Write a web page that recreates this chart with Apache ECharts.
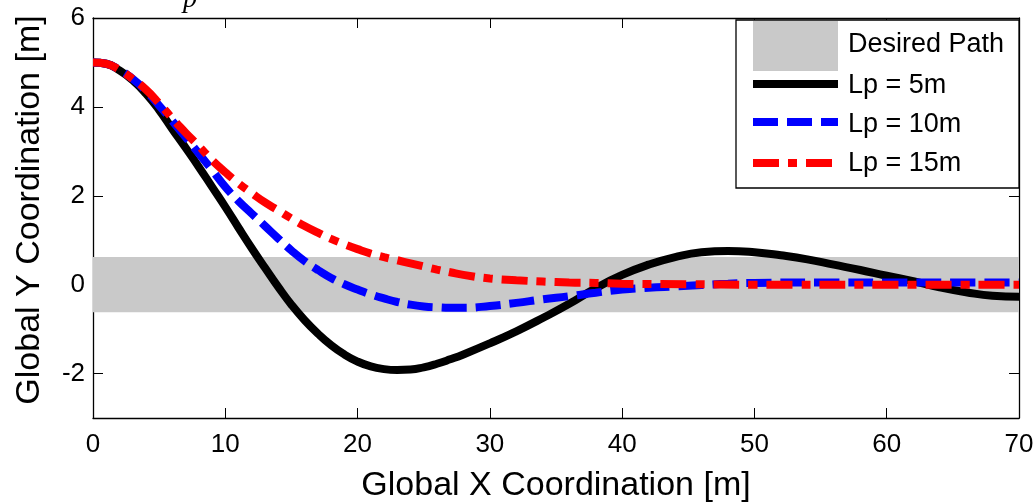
<!DOCTYPE html>
<html>
<head>
<meta charset="utf-8">
<script src="https://cdn.jsdelivr.net/npm/echarts@6/dist/echarts.min.js"></script>
<style>html,body{margin:0;padding:0;background:#fff}#c{width:1036px;height:503px}</style>
</head>
<body>
<div id="c"></div>
<script>
// ---- data ----
const xLabels = [0, 10, 20, 30, 40, 50, 60, 70];
const yTicks = [-2, 0, 2, 4, 6];
const bandHalfWidth = 0.62; // desired path band (m)

const x5  = [0,1,2,3,4,5,6,7,8,9,10,11,12,13,14,15,16,17,18,19,20,21,22,23,24,25,26,27,28,30,32,34,36,38,40,42,44,46,48,50,52,54,56,58,60,62,64,66,68,70];
const y5  = [5.0,4.97,4.82,4.6,4.3,3.93,3.5,3.08,2.65,2.2,1.75,1.28,0.82,0.38,-0.05,-0.45,-0.8,-1.1,-1.36,-1.57,-1.73,-1.84,-1.9,-1.92,-1.91,-1.86,-1.78,-1.68,-1.57,-1.32,-1.05,-0.75,-0.43,-0.08,0.22,0.45,0.62,0.73,0.76,0.73,0.66,0.57,0.45,0.33,0.2,0.08,-0.06,-0.17,-0.25,-0.27];

const x10 = [0,1,2,3,4,5,6,7,8,9,10,11,12,13,14,15,16,17,18,19,20,21,22,23,24,25,26,27,28,30,32,34,36,38,40,42,44,46,48,50,55,60,65,70];
const y10 = [5.0,4.97,4.83,4.63,4.36,4.03,3.68,3.32,2.95,2.58,2.2,1.88,1.6,1.32,1.04,0.77,0.53,0.33,0.15,0.01,-0.11,-0.22,-0.31,-0.39,-0.45,-0.49,-0.51,-0.52,-0.52,-0.48,-0.41,-0.33,-0.26,-0.18,-0.11,-0.07,-0.04,-0.01,0.02,0.04,0.05,0.05,0.05,0.05];

const x15 = [0,1,2,3,4,5,6,7,8,9,10,11,12,13,14,15,16,17,18,19,20,21,22,23,24,25,26,27,28,30,32,34,36,38,40,45,50,60,70];
const y15 = [5.0,4.97,4.83,4.63,4.39,4.08,3.74,3.42,3.12,2.8,2.53,2.28,2.06,1.85,1.67,1.49,1.32,1.17,1.03,0.91,0.8,0.7,0.62,0.55,0.48,0.41,0.34,0.28,0.22,0.14,0.1,0.07,0.05,0.04,0.02,0.01,0.0,0.0,0.0];

const seriesNames = ['Desired Path', 'Lp = 5m', 'Lp = 10m', 'Lp = 15m'];

function zip(xs, ys) { return xs.map((x, i) => [x, ys[i]]); }

const FONT = 'Liberation Sans, Arial, sans-serif';
const chart = echarts.init(document.getElementById('c'), null, {renderer: 'canvas'});

const tickStyle = {show: true, inside: true, length: 10, lineStyle: {color: '#000', width: 1}};
const axisLine = {show: true, onZero: false, lineStyle: {color: '#000', width: 1.3}};

const option = {
  animation: false,
  backgroundColor: '#fff',
  grid: {left: 93, right: 17, top: 18, bottom: 85, containLabel: false, outerBoundsMode: 'none'},
  xAxis: [{
    type: 'value', min: 0, max: 70, interval: 10,
    axisLine: axisLine, axisTick: tickStyle, splitLine: {show: false},
    axisLabel: {color: '#000', fontSize: 26, fontFamily: FONT, margin: 14},
    name: 'Global X Coordination [m]', nameLocation: 'middle', nameGap: 51,
    nameTextStyle: {color: '#000', fontSize: 34, fontFamily: FONT}
  }, {
    type: 'value', position: 'top', min: 0, max: 70, interval: 10,
    axisLine: axisLine, axisTick: tickStyle, splitLine: {show: false},
    axisLabel: {show: false}
  }],
  yAxis: [{
    type: 'value', min: -3, max: 6,
    axisLine: axisLine,
    axisTick: Object.assign({customValues: yTicks}, tickStyle),
    splitLine: {show: false},
    axisLabel: {color: '#000', fontSize: 26, fontFamily: FONT, margin: 8, customValues: yTicks},
    name: 'Global Y Coordination [m]', nameLocation: 'middle', nameGap: 46,
    nameTextStyle: {color: '#000', fontSize: 34, fontFamily: FONT, padding: [0, 0, 0, 16]}
  }, {
    type: 'value', position: 'right', min: -3, max: 6,
    axisLine: axisLine,
    axisTick: Object.assign({customValues: yTicks}, tickStyle),
    splitLine: {show: false},
    axisLabel: {show: false}
  }],
  series: [
    {
      name: seriesNames[0], type: 'line', data: [], silent: true,
      markArea: {
        silent: true,
        itemStyle: {color: '#c9c9c9', opacity: 1},
        data: [[{xAxis: xLabels[0], yAxis: -bandHalfWidth}, {xAxis: xLabels[xLabels.length - 1], yAxis: bandHalfWidth}]]
      }
    },
    {
      name: seriesNames[1], type: 'line', data: zip(x5, y5), showSymbol: false,
      smooth: 0.5,
      lineStyle: {color: '#000', width: 8, cap: 'butt'}
    },
    {
      name: seriesNames[2], type: 'line', data: zip(x10, y10), showSymbol: false,
      smooth: 0.5,
      lineStyle: {color: '#0000ff', width: 8, type: [25, 9], cap: 'butt'}
    },
    {
      name: seriesNames[3], type: 'line', data: zip(x15, y15), showSymbol: false,
      smooth: 0.5,
      lineStyle: {color: '#ff0000', width: 8, type: [26, 9, 9, 9], cap: 'butt'}
    }
  ],
  graphic: [
    {type: 'text', left: 183, top: -14, z: 10,
     style: {text: 'p', font: 'italic 28px "Liberation Serif", serif', fill: '#000'}},
    {type: 'rect', shape: {x: 736, y: 20, width: 283, height: 168}, z: 20,
     style: {fill: '#fff', stroke: '#000', lineWidth: 1.3}},
    {type: 'rect', shape: {x: 753, y: 21, width: 85, height: 50}, z: 21,
     style: {fill: '#c9c9c9'}},
    {type: 'line', shape: {x1: 753, y1: 84, x2: 838, y2: 84}, z: 21,
     style: {stroke: '#000', lineWidth: 8}},
    {type: 'line', shape: {x1: 753, y1: 122, x2: 838, y2: 122}, z: 21,
     style: {stroke: '#0000ff', lineWidth: 8, lineDash: [25, 9]}},
    {type: 'line', shape: {x1: 753, y1: 163, x2: 838, y2: 163}, z: 21,
     style: {stroke: '#ff0000', lineWidth: 8, lineDash: [26, 9, 9, 9]}},
    {type: 'text', x: 848, y: 45, z: 21,
     style: {text: seriesNames[0], font: '27px ' + FONT, fill: '#000', verticalAlign: 'middle'}},
    {type: 'text', x: 848, y: 86, z: 21,
     style: {text: seriesNames[1], font: '27px ' + FONT, fill: '#000', verticalAlign: 'middle'}},
    {type: 'text', x: 848, y: 125, z: 21,
     style: {text: seriesNames[2], font: '27px ' + FONT, fill: '#000', verticalAlign: 'middle'}},
    {type: 'text', x: 848, y: 164, z: 21,
     style: {text: seriesNames[3], font: '27px ' + FONT, fill: '#000', verticalAlign: 'middle'}}
  ]
};
chart.setOption(option);
</script>
</body>
</html>
